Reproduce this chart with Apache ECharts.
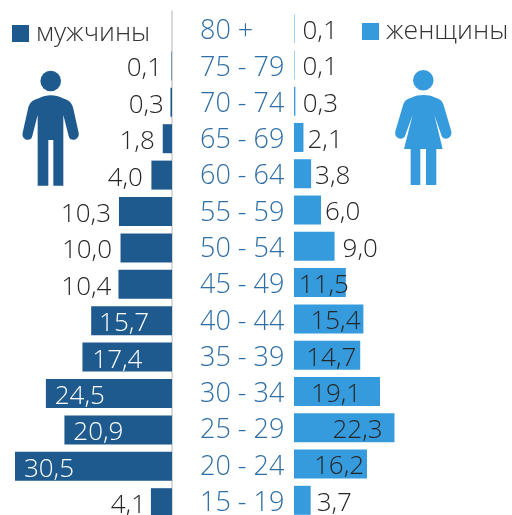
<!DOCTYPE html>
<html><head><meta charset="utf-8">
<style>html,body{margin:0;padding:0;background:#fff}#c{width:512px;height:515px}</style>
<script src="https://cdn.jsdelivr.net/npm/echarts@6/dist/echarts.min.js"></script>
</head><body><div id="c"></div>
<script>
const ageGroups = ['80 +','75 - 79','70 - 74','65 - 69','60 - 64','55 - 59','50 - 54','45 - 49','40 - 44','35 - 39','30 - 34','25 - 29','20 - 24','15 - 19'];
const menValues = [0,0.1,0.3,1.8,4.0,10.3,10.0,10.4,15.7,17.4,24.5,20.9,30.5,4.1];
const womenValues = [0.1,0.1,0.3,2.1,3.8,6.0,9.0,11.5,15.4,14.7,19.1,22.3,16.2,3.7];
const menLabelShift = [0,-9.5,-6.5,-8,-8.5,-8,-8.5,-7,58,60,59,59,59,-5];
const womenLabelShift = [8,8,7.4,4,4,4,8,-47,-53,-54,-69,-62,-53,6];
const menName = 'мужчины', womenName = 'женщины';
const FONT = '"Open Sans"';
const fmt = v => v.toFixed(1).replace('.', ',');
const manPath = 'M120 293C135 283 170 283 185 293L200 299C210 303 216 312 219 322L236 398C240 420 210 428 206 408L190 345L190 557L160 557L160 420L145 420L145 557L113 557L113 345L97 408C93 428 63 420 68 398L85 322C88 312 94 303 104 299Z';
const womanPath = 'M470 292C485 283 520 283 535 292L547 296C556 300 560 306 563 316L586 394C590 418 560 424 556 405L535 345L560 447L541 447L541 555L510 555L510 447L493 447L493 555L464 555L464 447L444 447L470 345L448 405C444 424 413 418 418 394L441 316C444 306 448 300 457 296Z';
echarts.graphic.registerShape('manIcon', echarts.graphic.extendPath(manPath, {}));
echarts.graphic.registerShape('womanIcon', echarts.graphic.extendPath(womanPath, {}));
const chart = echarts.init(document.getElementById('c'), null, {renderer:'canvas'});
const axisFont = {fontFamily:FONT,fontSize:27,fontWeight:300};
const valueFont = {fontFamily:FONT,fontSize:26,fontWeight:300};
const legendFont = {fontFamily:FONT,fontSize:26.5,fontWeight:300,color:'#333',padding:[0,0,0,2]};
chart.setOption({
  animation:false,
  backgroundColor:'#fff',
  legend:[
    {data:[menName],left:12,top:20,itemWidth:17,itemHeight:17,itemGap:0,icon:'rect',padding:0,textStyle:legendFont},
    {data:[womenName],left:362,top:18,itemWidth:17,itemHeight:17,itemGap:0,icon:'rect',padding:0,textStyle:legendFont}
  ],
  grid:[
    {left:15,width:157,top:11.3,height:509.6,containLabel:false,outerBoundsMode:'none'},
    {left:294,width:205,top:10.45,height:508,containLabel:false,outerBoundsMode:'none'},
    {left:294,width:205,top:13.45,height:508,containLabel:false,outerBoundsMode:'none'}
  ],
  xAxis:[
    {gridIndex:0,type:'value',inverse:true,min:0,max:30.5,show:false},
    {gridIndex:1,type:'value',min:0,max:45.5,show:false},
    {gridIndex:2,type:'value',min:0,max:45.5,show:false}
  ],
  yAxis:[
    {gridIndex:0,type:'category',inverse:true,data:ageGroups,position:'right',
     axisLine:{show:true,onZero:false,lineStyle:{color:'#d9d9d9',width:2}},axisTick:{show:false},axisLabel:{show:false},splitLine:{show:false}},
    {gridIndex:1,type:'category',inverse:true,data:ageGroups,
     axisLine:{show:false},axisTick:{show:false},axisLabel:{show:false},splitLine:{show:false}},
    {gridIndex:2,type:'category',inverse:true,data:ageGroups,
     axisLine:{show:false},axisTick:{show:false},splitLine:{show:false},
     axisLabel:{show:true,interval:0,align:'left',margin:94,...axisFont,color:'#2f6ea5'}}
  ],
  series:[
    {name:menName,type:'bar',xAxisIndex:0,yAxisIndex:0,barWidth:29,itemStyle:{color:'#1f5a8f'},
     data:menValues.map((v,i)=>({value:v,label:{show:v>0,position:'left',distance:0,offset:[menLabelShift[i],3],color:menLabelShift[i]>0?'#fff':'#262626',...valueFont,formatter:()=>fmt(v)}}))},
    {name:womenName,type:'bar',xAxisIndex:1,yAxisIndex:1,barWidth:29,itemStyle:{color:'#359bdc'},
     data:womenValues.map((v,i)=>({value:v,label:{show:true,position:'right',distance:0,offset:[womenLabelShift[i],3],color:'#262626',...valueFont,formatter:()=>fmt(v)}}))}
  ],
  graphic:[
    {type:'circle',shape:{cx:50.7,cy:81,r:10.3},style:{fill:'#1f5a8f'}},
    {type:'manIcon',scaleX:1/3,scaleY:1/3,style:{fill:'#1f5a8f'}},
    {type:'circle',shape:{cx:423.3,cy:80.3,r:10.3},style:{fill:'#359bdc'}},
    {type:'womanIcon',x:256,scaleX:1/3,scaleY:1/3,style:{fill:'#359bdc'}}
  ]
});
</script></body></html>
